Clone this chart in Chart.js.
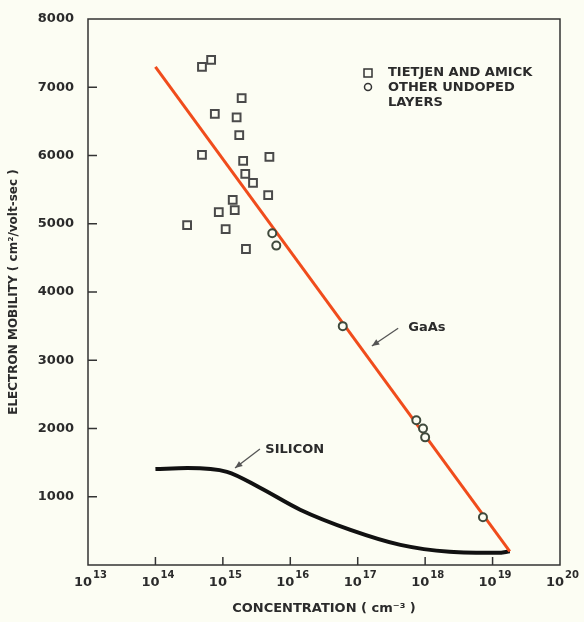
<!DOCTYPE html>
<html>
<head>
<meta charset="utf-8">
<script src="https://cdn.jsdelivr.net/npm/chart.js@4"></script>
<style>
html,body{margin:0;padding:0;background:#fcfdf3;}
#wrap{width:584px;height:622px;}
</style>
</head>
<body>
<div id="wrap"><canvas id="c"></canvas></div>
<script>
// Tietjen and Amick (squares)
const taConc = [6.7e14,4.9e14,1.9e15,7.6e14,1.6e15,1.75e15,4.9e14,2.0e15,4.9e15,2.15e15,2.8e15,4.7e15,1.4e15,1.5e15,8.7e14,2.95e14,1.1e15,2.2e15];
const taMob  = [7400,7300,6840,6610,6560,6300,6010,5920,5980,5730,5600,5420,5350,5200,5170,4980,4920,4630];
// other undoped layers (circles)
const otherConc = [5.4e15,6.2e15,6.0e16,7.4e17,9.3e17,1.0e18,7.2e18];
const otherMob  = [4860,4680,3500,2120,2000,1870,700];
// fitted curves
const gaasConc = [1e14,1.8e19];
const gaasMob  = [7300,200];
const siConc = [1e14,3e14,1.15e15,3.5e15,1.4e16,7.8e16,4.3e17,2.3e18,1.2e19,1.8e19];
const siMob  = [1405,1420,1365,1135,810,515,295,195,178,200];

const xExp = [13,14,15,16,17,18,19,20];
const ink = "#2b2b2b";
const font = "'DejaVu Sans', sans-serif";

function pts(xs,ys){ return xs.map((x,i)=>({x:x,y:ys[i]})); }

const deco = {
    id:'deco',
    afterDatasetsDraw(chart){
        const {ctx, chartArea:a, scales:{x,y}} = chart;
        ctx.save();
        // frame
        ctx.strokeStyle = "#333";
        ctx.lineWidth = 1.5;
        ctx.strokeRect(a.left, a.top, a.right-a.left, a.bottom-a.top);
        // inward ticks
        xExp.slice(1,-1).forEach(p=>{
            const px = x.getPixelForValue(Math.pow(10,p));
            ctx.beginPath(); ctx.moveTo(px,a.bottom); ctx.lineTo(px,a.bottom-8); ctx.stroke();
        });
        for(let v=1000; v<8000; v+=1000){
            const py = y.getPixelForValue(v);
            ctx.beginPath(); ctx.moveTo(a.left,py); ctx.lineTo(a.left+9,py); ctx.stroke();
        }
        // x tick labels, 10 with raised exponent
        ctx.fillStyle = ink;
        ctx.textBaseline = "alphabetic";
        xExp.forEach(p=>{
            const px = x.getPixelForValue(Math.pow(10,p));
            ctx.font = "bold 13px " + font;
            const w1 = ctx.measureText("10").width;
            ctx.font = "bold 10px " + font;
            const w2 = ctx.measureText(String(p)).width;
            const left = px - (w1+w2)/2 + 2;
            ctx.font = "bold 13px " + font;
            ctx.textAlign = "left";
            ctx.fillText("10", left, a.bottom+21);
            ctx.font = "bold 10px " + font;
            ctx.fillText(String(p), left+w1+1, a.bottom+13);
        });
        // labels with arrows
        ctx.font = "bold 13px " + font;
        ctx.textBaseline = "middle";
        function arrow(x1,y1,x2,y2){
            const X1=x.getPixelForValue(x1),Y1=y.getPixelForValue(y1);
            const X2=x.getPixelForValue(x2),Y2=y.getPixelForValue(y2);
            ctx.strokeStyle="#555"; ctx.lineWidth=1.3;
            ctx.beginPath(); ctx.moveTo(X1,Y1); ctx.lineTo(X2,Y2); ctx.stroke();
            const ang=Math.atan2(Y2-Y1,X2-X1);
            ctx.fillStyle="#555";
            ctx.beginPath(); ctx.moveTo(X2,Y2);
            ctx.lineTo(X2-8*Math.cos(ang-0.4),Y2-8*Math.sin(ang-0.4));
            ctx.lineTo(X2-8*Math.cos(ang+0.4),Y2-8*Math.sin(ang+0.4));
            ctx.closePath(); ctx.fill();
        }
        ctx.fillStyle = ink;
        ctx.fillText("GaAs", x.getPixelForValue(Math.pow(10,17.75)), y.getPixelForValue(3480));
        ctx.fillText("SILICON", x.getPixelForValue(Math.pow(10,15.63)), y.getPixelForValue(1690));
        arrow(Math.pow(10,17.6),3470,Math.pow(10,17.21),3210);
        arrow(Math.pow(10,15.55),1700,Math.pow(10,15.18),1420);
        // legend
        ctx.fillStyle = ink;
        ctx.fillText("TIETJEN AND AMICK", a.left+300, a.top+54);
        ctx.fillText("OTHER UNDOPED", a.left+300, a.top+69);
        ctx.fillText("LAYERS", a.left+300, a.top+84);
        ctx.strokeStyle="#333"; ctx.lineWidth=1.5;
        ctx.strokeRect(a.left+276, a.top+50, 8, 8);
        ctx.beginPath(); ctx.arc(a.left+280, a.top+68, 3.5, 0, 2*Math.PI); ctx.stroke();
        ctx.restore();
    }
};

new Chart(document.getElementById("c"),{
    type:'scatter',
    data:{
        datasets:[
            {label:'GaAs', data:pts(gaasConc,gaasMob), showLine:true, borderColor:'#f04c1c', borderWidth:3, pointRadius:0, order:3},
            {label:'Silicon', data:pts(siConc,siMob), showLine:true, borderColor:'#111', borderWidth:4, pointRadius:0, cubicInterpolationMode:'monotone', order:4},
            {label:'Other undoped layers', data:pts(otherConc,otherMob), pointStyle:'circle', pointRadius:4, borderWidth:2, borderColor:'#3f4a3c', backgroundColor:'#fcfdf3', order:1},
            {label:'Tietjen and Amick', data:pts(taConc,taMob), pointStyle:'rect', pointRadius:5.5, borderWidth:2, borderColor:'#4a4a4a', backgroundColor:'rgba(0,0,0,0)', order:2}
        ]
    },
    options:{
        responsive:true,
        maintainAspectRatio:false,
        animation:false,
        layout:{padding:{left:0,right:24,top:19,bottom:0}},
        plugins:{legend:{display:false},tooltip:{enabled:false}},
        scales:{
            x:{
                type:'logarithmic', min:1e13, max:1e20,
                afterBuildTicks:s=>{ s.ticks = xExp.map(p=>({value:Math.pow(10,p)})); },
                afterFit:s=>{ s.height = 57; },
                grid:{display:false}, border:{display:false},
                ticks:{display:false},
                title:{display:true, text:"CONCENTRATION ( cm⁻³ )", color:ink, font:{family:font,size:13,weight:'bold'}, padding:{top:2,bottom:6}}
            },
            y:{
                min:0, max:8000,
                afterFit:s=>{ s.width = 88; },
                grid:{display:false}, border:{display:false},
                ticks:{stepSize:1000, padding:6, color:ink, font:{family:font,size:13,weight:'bold'},
                    callback:v=>v===0?"":String(v)},
                title:{display:true, text:"ELECTRON MOBILITY ( cm²/volt-sec )", color:ink, font:{family:font,size:12,weight:'bold'}, padding:{top:7,bottom:4}}
            }
        }
    },
    plugins:[deco]
});
</script>
</body>
</html>
